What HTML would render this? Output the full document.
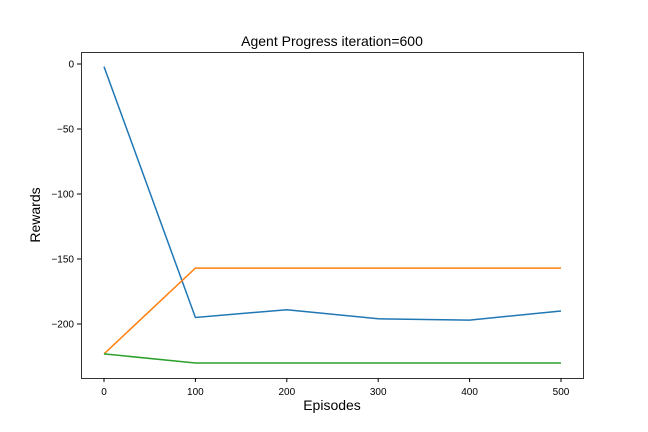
<!DOCTYPE html>
<html><head><meta charset="utf-8"><style>
body{margin:0;background:#fff;font-family:"Liberation Sans","DejaVu Sans",sans-serif}
svg{display:block}
</style></head><body>
<svg id="chart" width="648" height="432">
<text x="332" y="46" text-anchor="middle" font-size="14">Agent Progress iteration=600</text>
<text x="332" y="410" text-anchor="middle" font-size="14">Episodes</text>
<text x="40" y="215" text-anchor="middle" font-size="14" transform="rotate(-90 40 215)">Rewards</text>
<g id="ticks"></g><g id="lines"></g>
<rect x="81.5" y="52.5" width="502" height="326" fill="none" stroke="#000" stroke-width="0.8"/>
</svg>
<script>
const episodes=[0,100,200,300,400,500];
const blueVals=[-2,-195,-189,-196,-197,-190];
const orangeVals=[-223,-157,-157,-157,-157,-157];
const greenVals=[-223,-230,-230,-230,-230,-230];
const xTicks=[0,100,200,300,400,500];
const yTicks=[0,-50,-100,-150,-200];
const sx=v=>104+v*0.914;
const sy=v=>64-v*1.3;
const NS="http://www.w3.org/2000/svg";
const tg=document.getElementById('ticks');
xTicks.forEach(t=>{
 const l=document.createElementNS(NS,'line');l.setAttribute('x1',sx(t));l.setAttribute('x2',sx(t));l.setAttribute('y1',378);l.setAttribute('y2',382);l.setAttribute('stroke','#000');
 
 
 tg.appendChild(l);
 const s=document.createElementNS(NS,'text');s.setAttribute('x',sx(t));s.setAttribute('y',395);s.setAttribute('text-anchor','middle');s.setAttribute('font-size','10');s.textContent=t;
 
 
 tg.appendChild(s);
});
yTicks.forEach(t=>{
 const l=document.createElementNS(NS,'line');l.setAttribute('x1',77);l.setAttribute('x2',81);l.setAttribute('y1',sy(t));l.setAttribute('y2',sy(t));l.setAttribute('stroke','#000');
 
 
 tg.appendChild(l);
 const s=document.createElementNS(NS,'text');s.setAttribute('x',74);s.setAttribute('y',sy(t)+3.5);s.setAttribute('text-anchor','end');s.setAttribute('font-size','10');s.textContent=t===0?'0':'\u2212'+Math.abs(t);
 
 
 tg.appendChild(s);
});
const lg=document.getElementById('lines');
[[blueVals,'#1f77b4','blue-series'],[orangeVals,'#ff7f0e','orange-series'],[greenVals,'#2ca02c','green-series']].forEach(([vals,c,n])=>{
 const p=document.createElementNS(NS,'polyline');
 p.setAttribute('points',vals.map((v,i)=>sx(episodes[i])+','+sy(v)).join(' '));
 p.setAttribute('fill','none');p.setAttribute('stroke',c);p.setAttribute('stroke-width','1.5');
 
 
 lg.appendChild(p);
});
</script>
</body></html>
